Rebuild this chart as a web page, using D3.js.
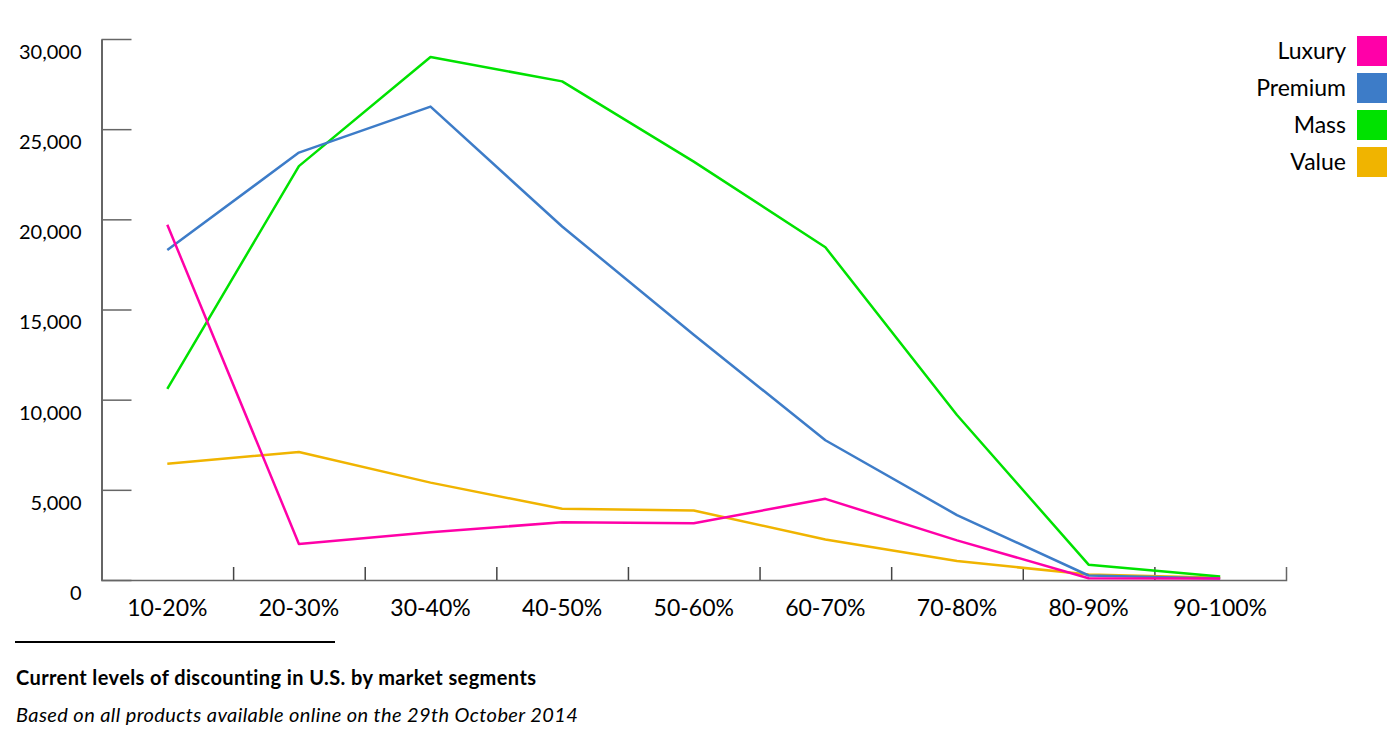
<!DOCTYPE html>
<html>
<head>
<meta charset="utf-8">
<script src="https://cdn.jsdelivr.net/npm/d3@7"></script>
<style>
  body { margin: 0; background: #fff; }
  text { font-family: Lato, "Open Sans", sans-serif; fill: #000; }
</style>
</head>
<body>
<div id="chart"></div>
<script>
// categories and series
const categories = ['10-20%', '20-30%', '30-40%', '40-50%', '50-60%', '60-70%', '70-80%', '80-90%', '90-100%'];
const seriesNames = ['Luxury', 'Premium', 'Mass', 'Value'];
const luxury = [19700, 2000, 2650, 3200, 3150, 4500, 2200, 100, 80];
const premium = [18300, 23700, 26250, 19600, 13600, 7750, 3600, 250, 80];
const mass = [10600, 22950, 29000, 27650, 23200, 18450, 9150, 850, 200];
const value = [6450, 7100, 5400, 3950, 3850, 2250, 1050, 300, 120];
const yTicks = [0, 5000, 10000, 15000, 20000, 25000, 30000];
const colors = ['#ff00a8', '#3d7cc8', '#00e200', '#f0b400'];

const title = 'Current levels of discounting in U.S. by market segments';
const subtitle = 'Based on all products available online on the 29th October 2014';

// Set the dimensions of the chart
const margin = { top: 39, right: 110, bottom: 155, left: 101.5 };
const width = 1396 - margin.left - margin.right;
const height = 735 - margin.top - margin.bottom;

const root = d3.select('#chart')
  .append('svg')
  .attr('width', 1396)
  .attr('height', 735);

const svg = root.append('g')
  .attr('transform', `translate(${margin.left}, ${margin.top})`);

// scales
const xScale = d3.scaleBand().domain(categories).range([0, width]);
const xEdge = d3.scaleLinear().domain([0, categories.length]).range([0, width]);
const yScale = d3.scaleLinear().domain([0, 30000]).range([height, 0]);

// y axis, ticks pointing inward, labels sitting a bit low
const yAxis = d3.axisLeft(yScale)
  .tickValues(yTicks)
  .tickSize(-30)
  .tickSizeOuter(0)
  .tickPadding(20)
  .tickFormat(d3.format(','));

const gy = svg.append('g').call(yAxis);
gy.selectAll('text')
  .attr('dy', '0.97em')
  .style('font-size', '20px');
gy.selectAll('line').attr('stroke', '#666').attr('stroke-width', 1.5);
gy.select('.domain').attr('stroke', '#333').attr('stroke-width', 1.5);

// x axis: tick marks at band edges
const xAxis = d3.axisBottom(xEdge)
  .tickValues(d3.range(1, categories.length))
  .tickSize(-13)
  .tickSizeOuter(-13)
  .tickFormat('');

const gx = svg.append('g')
  .attr('transform', `translate(0, ${height})`)
  .call(xAxis);
gx.selectAll('line').attr('stroke', '#444').attr('stroke-width', 1.5);
gx.select('.domain').attr('stroke', '#666').attr('stroke-width', 1.5);

// category labels at band centres
const gxl = svg.append('g')
  .attr('transform', `translate(0, ${height})`)
  .call(d3.axisBottom(xScale).tickSize(0).tickPadding(20));
gxl.select('.domain').remove();
gxl.selectAll('text').style('font-size', '23px');

// lines
const line = d3.line()
  .x((d, i) => xScale(categories[i]) + xScale.bandwidth() / 2)
  .y(d => yScale(d));

const allSeries = [luxury, premium, mass, value];

// draw value first so luxury ends up on top
for (let i = allSeries.length - 1; i >= 0; i--) {
  svg.append('path')
    .datum(allSeries[i])
    .attr('fill', 'none')
    .attr('stroke', colors[i])
    .attr('stroke-width', 2.5)
    .attr('stroke-linejoin', 'round')
    .attr('d', line);
}

// legend, top right
const legend = root.append('g')
  .attr('transform', 'translate(1357, 36)');

seriesNames.forEach((name, i) => {
  const row = legend.append('g').attr('transform', `translate(0, ${i * 37})`);
  row.append('rect')
    .attr('width', 30)
    .attr('height', 30)
    .attr('fill', colors[i]);
  row.append('text')
    .attr('x', -11)
    .attr('y', 15)
    .attr('dy', '0.35em')
    .style('text-anchor', 'end')
    .style('font-size', '23px')
    .text(name);
});

// caption underneath
root.append('line')
  .attr('x1', 15)
  .attr('x2', 335)
  .attr('y1', 642)
  .attr('y2', 642)
  .attr('stroke', '#000')
  .attr('stroke-width', 2);

root.append('text')
  .attr('x', 16)
  .attr('y', 685)
  .style('font-size', '20px')
  .style('letter-spacing', '0.4px')
  .style('font-weight', 'bold')
  .text(title);

root.append('text')
  .attr('x', 16)
  .attr('y', 722)
  .style('font-size', '20px')
  .style('letter-spacing', '0.4px')
  .style('font-style', 'italic')
  .text(subtitle);
</script>
</body>
</html>
